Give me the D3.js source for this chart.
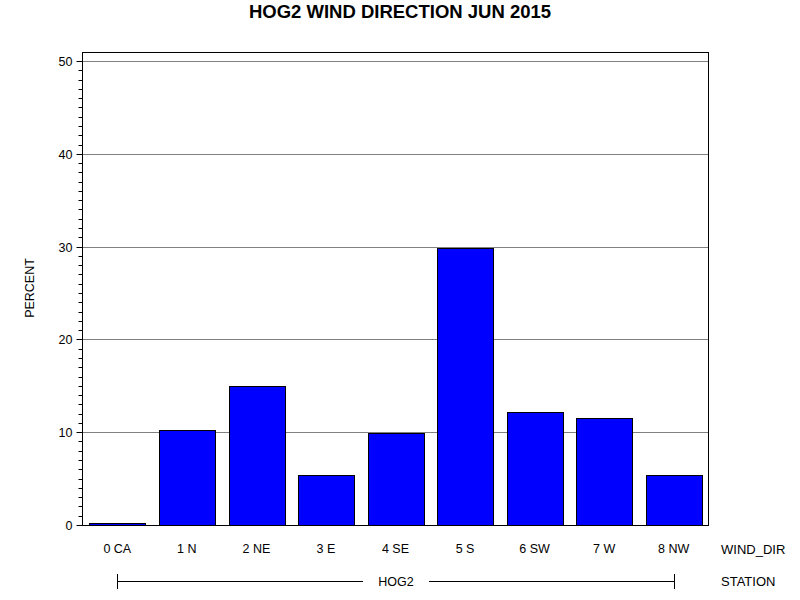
<!DOCTYPE html>
<html><head><meta charset="utf-8">
<script src="https://cdn.jsdelivr.net/npm/d3@7"></script>
<style>body{margin:0;background:#fff}svg{display:block;font-family:"Liberation Sans",Arial,sans-serif}</style>
</head><body>
<svg id="c" width="800" height="600"></svg>
<script>
const categories = ["0 CA","1 N","2 NE","3 E","4 SE","5 S","6 SW","7 W","8 NW"];
const percentValues = [0.2,10.2,15.0,5.4,9.9,29.8,12.2,11.5,5.4];
const yTicks = [0,10,20,30,40,50];
const titleText = "HOG2 WIND DIRECTION JUN 2015";
const stationName = "HOG2";

const svg = d3.select("#c");
const L=82.5,R=708.5,T=52.5,B=525.5;
const x = d3.scaleBand().domain(categories).range([L,R]).paddingInner(0.2).paddingOuter(0.1);
const y = d3.scaleLinear().domain([0,50]).range([B,61.5]);

// gridlines
svg.append("g").selectAll("line").data(yTicks.filter(d=>d>0)).join("line")
  .attr("x1",L).attr("x2",R).attr("y1",d=>Math.round(y(d)-0.5)+0.5).attr("y2",d=>Math.round(y(d)-0.5)+0.5)
  .attr("stroke","#808080").attr("stroke-width",1);

// bars
svg.append("g").selectAll("rect").data(percentValues).join("rect")
  .attr("x",(d,i)=>Math.round(x(categories[i]))+0.5).attr("width",Math.round(x.bandwidth()))
  .attr("y",d=>Math.round(y(d)-0.5)+0.5).attr("height",d=>B-(Math.round(y(d)-0.5)+0.5))
  .attr("fill","#0000ff").attr("stroke","#000").attr("stroke-width",1);

// frame
svg.append("rect").attr("x",L).attr("y",T).attr("width",R-L).attr("height",B-T)
  .attr("fill","none").attr("stroke","#000").attr("stroke-width",1);

// y axis
const minor = d3.range(0,51,1);
svg.append("g").selectAll("line").data(minor).join("line")
  .attr("x1",d=>d%10===0?L-6:L-4).attr("x2",L)
  .attr("y1",d=>Math.round(y(d)-0.5)+0.5).attr("y2",d=>Math.round(y(d)-0.5)+0.5)
  .attr("stroke","#000");
svg.append("g").selectAll("text").data(yTicks).join("text")
  .attr("x",L-10).attr("y",d=>y(d)+4.5).attr("text-anchor","end")
  .attr("font-size",12.5).text(d=>d);

// x labels
svg.append("g").selectAll("text").data(categories).join("text")
  .attr("x",d=>x(d)+x.bandwidth()/2).attr("y",553).attr("text-anchor","middle")
  .attr("font-size",12.5).text(d=>d);
svg.append("text").attr("x",721).attr("y",554).attr("font-size",13).text("WIND_DIR");

// station line
const sx1 = Math.round(x(categories[0])+x.bandwidth()/2)+0.5, sx2 = Math.round(x(categories[categories.length-1])+x.bandwidth()/2)+0.5;
const mid = (sx1+sx2)/2;
svg.append("line").attr("x1",sx1).attr("x2",mid-33).attr("y1",581.5).attr("y2",581.5).attr("stroke","#000");
svg.append("line").attr("x1",mid+33).attr("x2",sx2).attr("y1",581.5).attr("y2",581.5).attr("stroke","#000");
svg.append("line").attr("x1",sx1).attr("x2",sx1).attr("y1",574).attr("y2",589).attr("stroke","#000");
svg.append("line").attr("x1",sx2).attr("x2",sx2).attr("y1",574).attr("y2",589).attr("stroke","#000");
svg.append("text").attr("x",mid).attr("y",586).attr("text-anchor","middle").attr("font-size",12.5).text(stationName);
svg.append("text").attr("x",721).attr("y",586).attr("font-size",13).text("STATION");

// y title
svg.append("text").attr("transform","translate(34,288) rotate(-90)").attr("text-anchor","middle")
  .attr("font-size",12.5).text("PERCENT");

// title
svg.append("text").attr("x",400).attr("y",18).attr("text-anchor","middle")
  .attr("font-size",18.5).attr("font-weight","bold").text(titleText);
</script>
</body></html>
